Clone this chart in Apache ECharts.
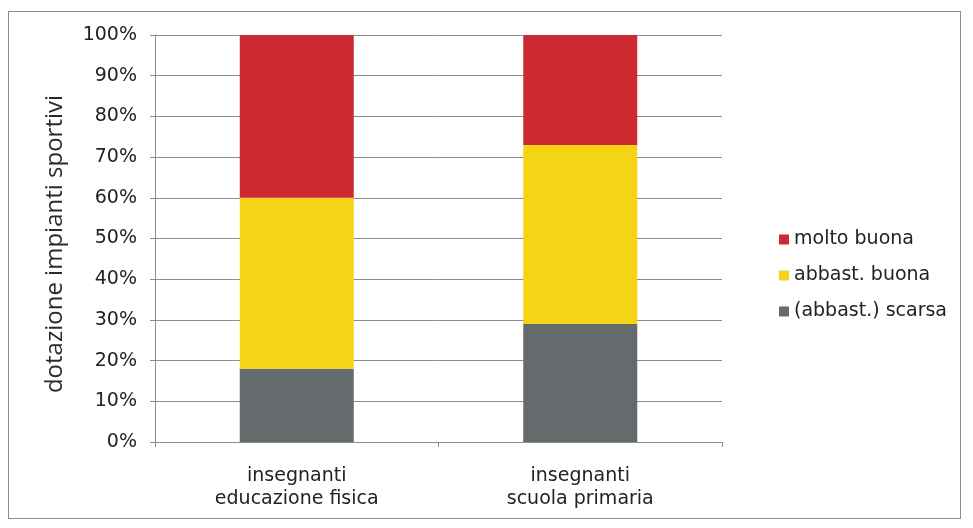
<!DOCTYPE html>
<html>
<head>
<meta charset="utf-8">
<script src="https://cdn.jsdelivr.net/npm/echarts@6/dist/echarts.min.js"></script>
<style>
html, body { margin: 0; padding: 0; background: #fff; }
#chart { width: 973px; height: 528px; }
#frame { position: absolute; left: 8px; top: 11px; width: 953px; height: 508px; border: 1px solid #8c8c8c; box-sizing: border-box; pointer-events: none; }
</style>
</head>
<body>
<div id="chart"></div>
<div id="frame"></div>
<script>
// categorie e serie
var categories = ['insegnanti\neducazione fisica', 'insegnanti\nscuola primaria'];
var scarsa = [18, 29];
var abbastBuona = [42, 44];
var moltoBuona = [40, 27];
var yTicks = [0, 10, 20, 30, 40, 50, 60, 70, 80, 90, 100];

var myChart = echarts.init(document.getElementById('chart'));
var font = '"DejaVu Sans", Verdana, sans-serif';

var option = {
	animation: false,
	grid: { left: 155, right: 251, top: 35, bottom: 86 },
	legend: {
		orient: 'vertical',
		left: 774,
		top: 225,
		itemWidth: 10,
		itemHeight: 10,
		itemGap: 17,
		icon: 'rect',
		textStyle: { fontFamily: font, fontSize: 19, color: '#222' },
		data: ['molto buona', 'abbast. buona', '(abbast.) scarsa']
	},
	xAxis: {
		type: 'category',
		data: categories,
		axisLine: { lineStyle: { color: '#8c8c8c', width: 1 } },
		axisTick: { show: true, length: 5, lineStyle: { color: '#8c8c8c' } },
		axisLabel: { fontFamily: font, fontSize: 19, color: '#222', margin: 23, lineHeight: 23 }
	},
	yAxis: {
		type: 'value',
		min: 0,
		max: 100,
		interval: 10,
		name: 'dotazione impianti sportivi',
		nameLocation: 'middle',
		nameGap: 88,
		nameTextStyle: { fontFamily: '"Open Sans", sans-serif', fontSize: 24, color: '#2a2a2a', padding: [0, 11, 0, 0] },
		axisLine: { show: true, lineStyle: { color: '#8c8c8c', width: 1 } },
		axisTick: { show: true, length: 5, lineStyle: { color: '#8c8c8c' } },
		axisLabel: {
			fontFamily: font, fontSize: 19, color: '#222', margin: 18,
			formatter: function(v) {
				return yTicks.indexOf(v) >= 0 ? v + '%' : '';
			}
		},
		splitLine: { lineStyle: { color: '#8c8c8c', width: 1 } }
	},
	series: [
		{ name: '(abbast.) scarsa', type: 'bar', stack: 'tot', barWidth: 114, itemStyle: { color: '#656b6d' }, data: scarsa },
		{ name: 'abbast. buona', type: 'bar', stack: 'tot', barWidth: 114, itemStyle: { color: '#f4d516' }, data: abbastBuona },
		{ name: 'molto buona', type: 'bar', stack: 'tot', barWidth: 114, itemStyle: { color: '#cc2a30' }, data: moltoBuona }
	]
};
myChart.setOption(option);
</script>
</body>
</html>
